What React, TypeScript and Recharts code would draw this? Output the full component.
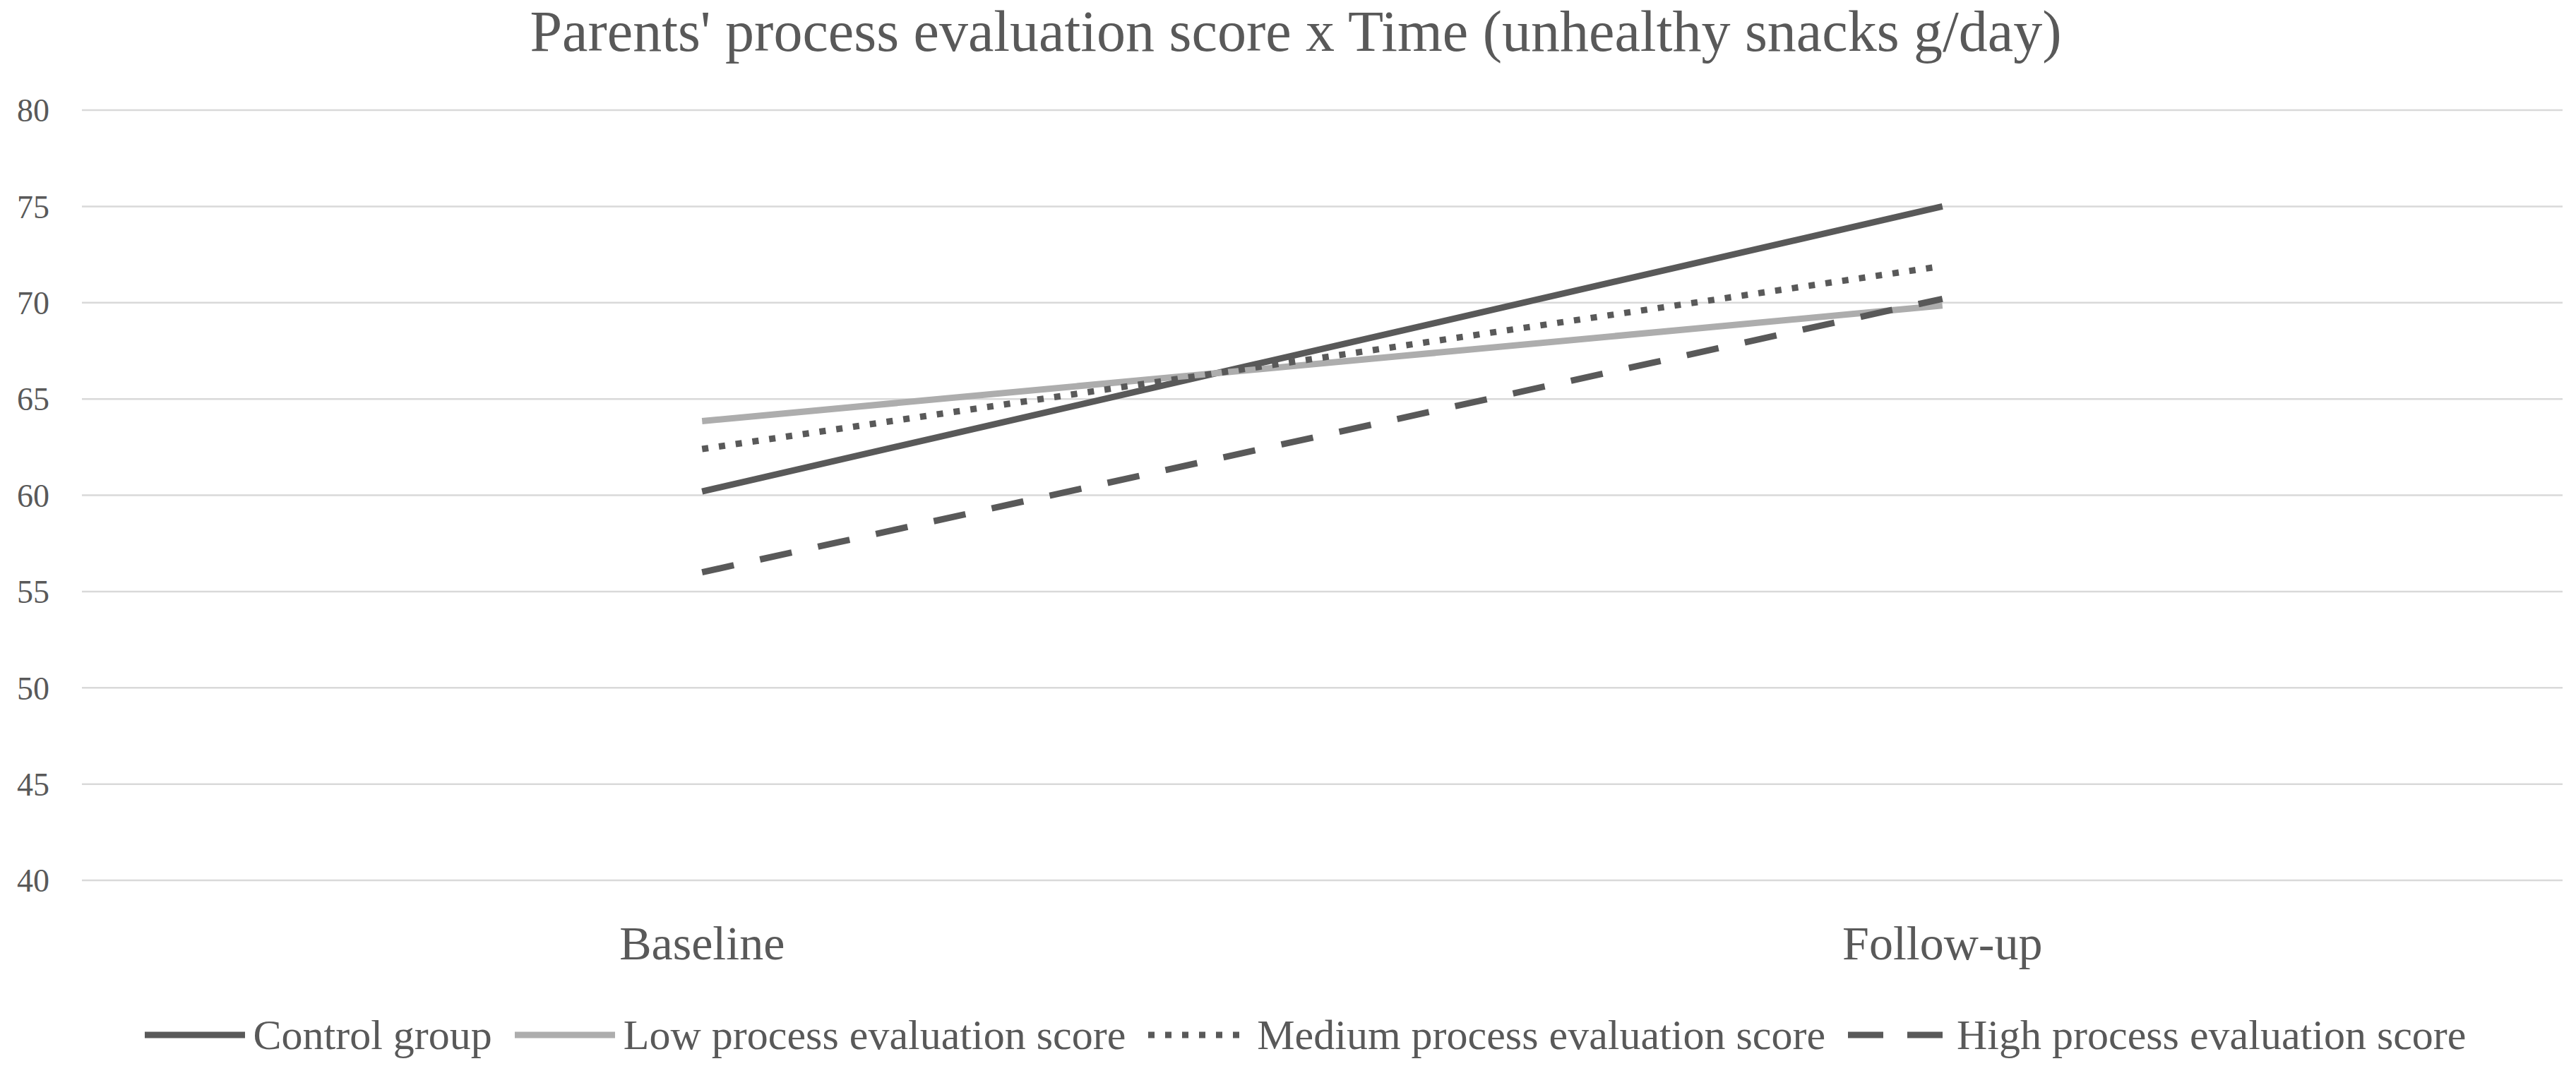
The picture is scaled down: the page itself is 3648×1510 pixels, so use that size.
import React from 'react';
import { ComposedChart, Line, XAxis, YAxis, CartesianGrid, Legend } from 'recharts';

const categories = ['Baseline', 'Follow-up'];
const controlGroup = [60.2, 75.0];
const lowScore = [63.85, 69.85];
const mediumScore = [62.4, 71.9];
const highScore = [56.0, 70.2];
const yTicks = [40, 45, 50, 55, 60, 65, 70, 75, 80];

const data = categories.map((c, i) => ({
  time: c,
  control: controlGroup[i],
  low: lowScore[i],
  medium: mediumScore[i],
  high: highScore[i],
}));

const DARK = '#595959';
const LIGHT = '#ADADAD';
const TEXT = '#595959';
const FONT = '"Liberation Serif", serif';

const series = [
  { key: 'control', name: 'Control group', color: DARK, dash: undefined as string | undefined },
  { key: 'low', name: 'Low process evaluation score', color: LIGHT, dash: undefined as string | undefined },
  { key: 'medium', name: 'Medium process evaluation score', color: DARK, dash: '9 15' },
  { key: 'high', name: 'High process evaluation score', color: DARK, dash: '46 38' },
];

const legendDash: Record<string, string | undefined> = {
  control: undefined,
  low: undefined,
  medium: '9 15',
  high: '50 34',
};

const LegendContent = () => (
  <div
    style={{
      display: 'flex',
      justifyContent: 'center',
      alignItems: 'center',
      height: 80,
      fontFamily: FONT,
      fontSize: 60,
      color: TEXT,
      paddingLeft: 100,
    }}
  >
    {series.map((s) => (
      <div key={s.key} style={{ display: 'flex', alignItems: 'center', marginRight: 32 }}>
        <svg width={142} height={20} style={{ marginRight: 12 }}>
          <line x1={0} y1={10} x2={142} y2={10} stroke={s.color} strokeWidth={9} strokeDasharray={legendDash[s.key]} />
        </svg>
        <span style={{ whiteSpace: 'nowrap', lineHeight: '80px' }}>{s.name}</span>
      </div>
    ))}
  </div>
);

export default function App() {
  return (
    <div style={{ position: 'absolute', left: 0, top: 0, width: 3648, height: 1510, background: '#fff' }}>
      <svg width={3648} height={110} style={{ position: 'absolute', left: 0, top: 0 }}>
        <text x={1835} y={72} textAnchor="middle" fontFamily={FONT} fontSize={82} fill={TEXT}>
          Parents' process evaluation score x Time (unhealthy snacks g/day)
        </text>
      </svg>
      <ComposedChart
        width={3648}
        height={1510}
        data={data}
        margin={{ top: 156, right: 19, bottom: 4, left: 0 }}
      >
        <CartesianGrid vertical={false} stroke="#D9D9D9" strokeWidth={2.5} />
        <XAxis
          dataKey="time"
          scale="band"
          axisLine={false}
          tickLine={false}
          tickSize={0}
          tickMargin={64}
          height={179}
          tick={{ fill: TEXT, fontFamily: FONT, fontSize: 68 }}
        />
        <YAxis
          domain={[40, 80]}
          ticks={yTicks}
          width={116}
          axisLine={false}
          tickLine={false}
          tickSize={0}
          tickMargin={46}
          tick={{ fill: TEXT, fontFamily: FONT, fontSize: 46 }}
        />
        <Legend verticalAlign="bottom" content={<LegendContent />} wrapperStyle={{ height: 80 }} />
        {series.map((s) => (
          <Line
            key={s.key}
            dataKey={s.key}
            name={s.name}
            stroke={s.color}
            strokeWidth={9}
            strokeDasharray={s.dash}
            dot={false}
            activeDot={false}
            isAnimationActive={false}
          />
        ))}
      </ComposedChart>
    </div>
  );
}
